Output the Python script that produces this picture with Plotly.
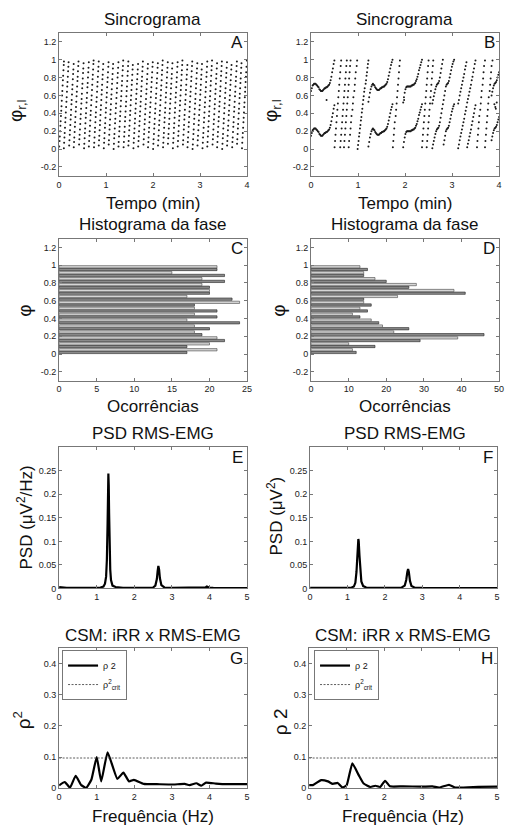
import plotly.graph_objects as go

W, H = 509, 830

# ---------------- DATA ----------------
# Panel A: synchrogram (respiratory cycle onsets, min) and beat phases (% of cycle)
A_ONSETS = [0.00, 0.10, 0.21, 0.31, 0.42, 0.53, 0.63, 0.74, 0.84, 0.95, 1.05, 1.16, 1.26,
            1.37, 1.47, 1.58, 1.68, 1.79, 1.89, 2.00, 2.10, 2.21, 2.31, 2.42, 2.52, 2.63,
            2.73, 2.84, 2.94, 3.05, 3.15, 3.26, 3.36, 3.47, 3.57, 3.68, 3.78, 3.89]
A_PERIOD = 0.105
A_PHASES = [
    [3, 9, 14, 20, 26, 31, 37, 43, 48, 54, 60, 65, 71, 77, 82, 88, 94, 98],
    [1, 7, 13, 18, 24, 30, 35, 41, 47, 53, 58, 64, 70, 75, 81, 87, 92, 97],
    [4, 10, 16, 21, 27, 33, 38, 44, 50, 55, 61, 67, 72, 78, 84, 89, 95],
    [2, 8, 13, 19, 25, 30, 36, 42, 47, 53, 59, 64, 70, 76, 81, 87, 93, 98],
    [5, 11, 16, 22, 28, 34, 39, 45, 51, 56, 62, 68, 73, 79, 85, 90, 96],
    [1, 6, 12, 18, 23, 29, 35, 40, 46, 52, 57, 63, 69, 74, 80, 86, 91, 97],
    [3, 9, 15, 20, 26, 32, 38, 43, 49, 55, 60, 66, 72, 78, 83, 89, 95, 99],
    [2, 7, 13, 19, 24, 30, 36, 41, 47, 53, 58, 64, 70, 75, 81, 87, 92, 98],
    [4, 10, 15, 21, 27, 32, 38, 44, 49, 55, 61, 66, 72, 78, 83, 89, 95],
    [1, 7, 12, 18, 24, 29, 35, 41, 46, 52, 58, 63, 69, 75, 80, 86, 92, 97],
    [5, 10, 16, 22, 27, 33, 39, 44, 50, 56, 61, 67, 73, 78, 84, 90, 95],
    [0, 6, 12, 17, 23, 29, 34, 40, 46, 51, 57, 63, 68, 74, 80, 85, 91, 97],
    [3, 8, 14, 20, 25, 31, 37, 42, 48, 54, 59, 65, 71, 76, 82, 88, 93, 99],
    [2, 8, 14, 19, 25, 31, 36, 42, 48, 53, 59, 65, 70, 76, 82, 87, 93, 98],
    [4, 9, 15, 21, 26, 32, 38, 43, 49, 55, 60, 66, 72, 77, 83, 89, 94],
    [1, 7, 12, 18, 23, 29, 34, 40, 45, 51, 56, 62, 67, 73, 78, 84, 89, 95],
    [3, 9, 14, 20, 26, 31, 37, 42, 48, 53, 59, 65, 70, 76, 81, 87, 92, 98],
    [5, 11, 17, 22, 28, 33, 39, 45, 50, 56, 62, 67, 73, 78, 84, 90, 95],
    [2, 8, 13, 19, 24, 30, 36, 41, 47, 52, 58, 64, 69, 75, 80, 86, 92, 97],
    [0, 6, 11, 17, 23, 28, 34, 40, 45, 51, 57, 62, 68, 74, 79, 85, 91, 96],
    [4, 10, 15, 21, 27, 32, 38, 43, 49, 55, 60, 66, 71, 77, 83, 88, 94, 99],
    [2, 7, 13, 18, 24, 30, 35, 41, 46, 52, 58, 63, 69, 74, 80, 86, 91, 97],
    [6, 12, 17, 23, 28, 34, 40, 45, 51, 56, 62, 68, 73, 79, 84, 90, 96],
    [1, 7, 12, 18, 24, 29, 35, 41, 46, 52, 58, 63, 69, 75, 80, 86, 92, 97],
    [3, 9, 15, 20, 26, 32, 37, 43, 49, 54, 60, 66, 71, 77, 83, 88, 94, 99],
    [5, 10, 16, 22, 27, 33, 38, 44, 50, 55, 61, 66, 72, 78, 83, 89, 94],
    [2, 8, 13, 19, 25, 30, 36, 42, 47, 53, 59, 64, 70, 76, 81, 87, 93, 98],
    [0, 5, 11, 17, 22, 28, 34, 39, 45, 51, 56, 62, 68, 73, 79, 85, 90, 96],
    [4, 10, 15, 21, 27, 32, 38, 44, 49, 55, 61, 66, 72, 78, 83, 89, 95],
    [1, 7, 13, 18, 24, 30, 35, 41, 47, 52, 58, 64, 69, 75, 81, 86, 92, 98],
    [3, 8, 14, 20, 25, 31, 37, 42, 48, 54, 59, 65, 71, 76, 82, 88, 93, 99],
    [5, 11, 16, 22, 28, 33, 39, 45, 50, 56, 62, 67, 73, 79, 84, 90, 96],
    [2, 8, 14, 19, 25, 31, 36, 42, 48, 53, 59, 65, 70, 76, 82, 87, 93, 98],
    [0, 6, 12, 17, 23, 29, 34, 40, 46, 51, 57, 63, 68, 74, 80, 85, 91, 97],
    [4, 9, 15, 21, 26, 32, 38, 43, 49, 55, 60, 66, 72, 77, 83, 89, 94],
    [2, 8, 13, 19, 25, 30, 36, 42, 47, 53, 59, 64, 70, 76, 81, 87, 93, 98],
    [6, 11, 17, 23, 28, 34, 40, 45, 51, 57, 62, 68, 74, 79, 85, 91, 96],
    [1, 7, 13, 18, 24, 30, 35, 41, 47, 52, 58, 64, 69, 75, 81, 86, 92, 99],
]

# Panel B: synchrogram strands (time in min, phase)
B_U1_T = [0.000, 0.016, 0.032, 0.048, 0.064, 0.080, 0.096, 0.112, 0.128, 0.144, 0.160, 0.176,
          0.192, 0.208, 0.224, 0.240, 0.256, 0.272, 0.288, 0.304, 0.320, 0.336, 0.352, 0.368,
          0.384, 0.400, 0.416, 0.432, 0.448, 0.464, 0.480, 0.496]
B_U1_P = [.65, .68, .71, .72, .73, .73, .73, .72, .71, .70, .69, .67, .66, .65, .65, .65,
          .66, .67, .68, .68, .69, .69, .70, .71, .72, .74, .77, .81, .86, .90, .95, .99]
B_L1_P = [.15, .18, .21, .22, .23, .23, .23, .22, .21, .20, .19, .17, .16, .15, .15, .15,
          .16, .17, .18, .18, .19, .19, .20, .21, .22, .24, .27, .31, .36, .40, .45, .49]
B_LONE_T = [0.33, 1.98]
B_LONE_P = [0.55, 0.55]
DL_PHI = [.02, .09, .16, .23, .30, .37, .44, .51, .58, .65, .72, .79, .86, .93, .99]
DL_PHI_DENSE = [.00, .045, .09, .14, .18, .23, .27, .32, .36, .41, .45, .50, .55, .59, .64,
                .68, .73, .77, .82, .86, .91, .95, .99]
DL1_T = [.50, .51, .52, .53, .54, .55, .56, .57, .58, .59, .60, .61, .62, .63, .64]
DL2_T = [.62, .63, .64, .65, .66, .67, .68, .69, .70, .71, .72, .73, .74, .75, .76]
DL3_T = [.70, .71, .72, .73, .74, .75, .76, .77, .78, .79, .80, .81, .82, .83, .84]
DL4_T = [.80, .81, .83, .84, .85, .86, .88, .89, .90, .92, .93, .94, .95, .97, .98]
DL5_T = [.99, 1.00, 1.01, 1.02, 1.03, 1.04, 1.05, 1.06, 1.07, 1.08, 1.09, 1.10, 1.11, 1.12,
         1.13, 1.14, 1.16, 1.17, 1.18, 1.19, 1.20, 1.21, 1.22]
B_U2_T = [1.22, 1.236, 1.252, 1.268, 1.284, 1.30, 1.316, 1.332, 1.348, 1.364, 1.38, 1.396,
          1.412, 1.428, 1.444, 1.46, 1.476, 1.492, 1.508, 1.524, 1.54, 1.556, 1.572, 1.588,
          1.604, 1.62, 1.636, 1.652, 1.668, 1.684, 1.70, 1.716, 1.732]
B_U2_P = [.53, .58, .63, .67, .70, .72, .73, .72, .71, .69, .68, .67, .66, .66, .66, .67, .68,
          .68, .69, .69, .70, .70, .71, .72, .73, .75, .78, .82, .86, .90, .94, .97, 1.0]
B_L2_P = [.03, .08, .13, .17, .20, .22, .23, .22, .21, .19, .18, .17, .16, .16, .16, .17, .18,
          .18, .19, .19, .20, .20, .21, .22, .23, .25, .28, .32, .36, .40, .44, .47, .50]
DL6_T = [1.74, 1.75, 1.76, 1.77, 1.78, 1.80, 1.81, 1.82, 1.83, 1.84, 1.85, 1.86, 1.87, 1.88, 1.89]
B_U3_T = [1.96, 1.976, 1.992, 2.008, 2.024, 2.04, 2.056, 2.072, 2.088, 2.104, 2.12, 2.136,
          2.152, 2.168, 2.184, 2.20, 2.216, 2.232, 2.248, 2.264, 2.28, 2.296, 2.312, 2.328,
          2.344, 2.36]
B_U3_P = [.52, .58, .63, .67, .69, .70, .70, .70, .70, .70, .70, .71, .71, .72, .72, .73, .74,
          .76, .78, .81, .84, .88, .91, .94, .97, 1.0]
B_L3_P = [.02, .08, .13, .17, .19, .20, .20, .20, .20, .20, .20, .21, .21, .22, .22, .23, .24,
          .26, .28, .31, .34, .38, .41, .44, .47, .50]
DL7_T = [2.36, 2.37, 2.38, 2.39, 2.40, 2.41, 2.42, 2.43, 2.44, 2.45, 2.46, 2.47, 2.48, 2.49, 2.50]
DL8_T = [2.46, 2.47, 2.48, 2.49, 2.50, 2.51, 2.52, 2.53, 2.54, 2.55, 2.56, 2.57, 2.58, 2.59, 2.60]
D4_T = [2.58, 2.596, 2.612, 2.628, 2.644, 2.66, 2.676, 2.692, 2.708, 2.724, 2.74, 2.756, 2.772,
        2.788, 2.804, 2.82, 2.836, 2.852, 2.868, 2.884, 2.90, 2.916, 2.932, 2.948, 2.964, 2.98,
        2.996, 3.012, 3.028, 3.044]
D4_P = [.01, .05, .09, .13, .17, .20, .22, .23, .24, .26, .30, .35, .40, .45, .50, .55, .60,
        .65, .70, .72, .73, .74, .76, .80, .84, .88, .92, .95, .98, 1.0]
D4PA_T = [2.58, 2.596, 2.612, 2.628, 2.644, 2.66, 2.676, 2.692, 2.708, 2.724, 2.74, 2.756,
          2.772, 2.788, 2.804]
D4PA_P = [.51, .55, .59, .63, .67, .70, .72, .73, .74, .76, .80, .85, .90, .95, 1.0]
D4PB_T = [2.82, 2.836, 2.852, 2.868, 2.884, 2.90, 2.916, 2.932, 2.948, 2.964, 2.98, 2.996,
          3.012, 3.028, 3.044]
D4PB_P = [.05, .10, .15, .20, .22, .23, .24, .26, .30, .34, .38, .42, .45, .48, .50]
D5_T = [3.13, 3.146, 3.162, 3.178, 3.194, 3.21, 3.226, 3.242, 3.258, 3.274, 3.29, 3.306, 3.322,
        3.338, 3.354, 3.37, 3.386, 3.402, 3.418, 3.434, 3.45, 3.466, 3.482, 3.498]
D5_P = [.01, .05, .10, .14, .18, .22, .26, .30, .34, .39, .43, .47, .52, .56, .60, .64, .68,
        .72, .77, .81, .86, .90, .95, .99]
D5PA_T = [3.13, 3.146, 3.162, 3.178, 3.194, 3.21, 3.226, 3.242, 3.258, 3.274, 3.29, 3.306]
D5PA_P = [.51, .55, .60, .64, .68, .72, .76, .80, .84, .89, .93, .97]
D5PB_T = [3.322, 3.338, 3.354, 3.37, 3.386, 3.402, 3.418, 3.434, 3.45, 3.466, 3.482, 3.498]
D5PB_P = [.02, .06, .10, .14, .18, .22, .27, .31, .36, .40, .45, .49]
DL9_T = [3.53, 3.54, 3.55, 3.56, 3.57, 3.58, 3.60, 3.61, 3.62, 3.63, 3.65, 3.66, 3.67, 3.68, 3.70]
DL10_T = [3.70, 3.71, 3.72, 3.73, 3.74, 3.75, 3.76, 3.77, 3.78, 3.80, 3.81, 3.82, 3.83, 3.84, 3.86]
E1_T = [3.84, 3.856, 3.872, 3.888, 3.904, 3.92, 3.936, 3.952, 3.968, 3.984, 4.0]
E1_P = [.10, .14, .18, .21, .23, .24, .25, .27, .30, .33, .36]
E2_P = [.60, .64, .68, .71, .73, .74, .75, .77, .80, .83, .86]
E3_T = [3.90, 3.92, 3.93, 3.95]
E3_P = [.50, .47, .45, .52]

# Panels C, D: phase histograms (bin centres; two bars per bin, lower / upper)
HIST_BINS = [0.033, 0.1, 0.167, 0.233, 0.3, 0.367, 0.433, 0.5, 0.567, 0.633, 0.7, 0.767,
             0.833, 0.9, 0.967]
C_LOW = [17, 17, 22, 19, 20, 24, 21, 21, 18, 23, 20, 20, 22, 22, 21]
C_UP = [21, 20, 21, 18, 18, 17, 18, 18, 24, 17, 20, 19, 19, 15, 21]
D_LOW = [12, 17, 29, 46, 26, 18, 13, 15, 16, 14, 41, 26, 20, 14, 15]
D_UP = [11, 10, 39, 22, 19, 16, 11, 13, 14, 23, 38, 28, 17, 14, 13]

# Panels E, F: PSD of RMS-EMG
E_FREQ = [0, 0.1, 0.2, 0.4, 0.6, 0.8, 1.0, 1.1, 1.18, 1.22, 1.25, 1.27, 1.29, 1.30, 1.31, 1.32,
          1.33, 1.34, 1.36, 1.38, 1.42, 1.5, 1.7, 2.0, 2.3, 2.5, 2.56, 2.6, 2.62, 2.64, 2.66,
          2.68, 2.72, 2.8, 3.0, 3.5, 3.85, 3.9, 3.93, 3.96, 4.0, 4.1, 4.5, 5.0]
E_PSD = [0.003, 0.002, 0.0015, 0.001, 0.001, 0.001, 0.0015, 0.002, 0.004, 0.01, 0.025, 0.06,
         0.14, 0.2, 0.244, 0.22, 0.16, 0.1, 0.04, 0.018, 0.006, 0.003, 0.0015, 0.001, 0.001,
         0.002, 0.006, 0.02, 0.036, 0.048, 0.04, 0.022, 0.007, 0.002, 0.001, 0.001, 0.0012,
         0.0025, 0.004, 0.003, 0.0015, 0.001, 0.0005, 0.0005]
F_FREQ = [0, 0.2, 0.5, 0.8, 1.0, 1.1, 1.17, 1.21, 1.24, 1.26, 1.28, 1.29, 1.30, 1.32, 1.34,
          1.37, 1.42, 1.5, 1.8, 2.2, 2.45, 2.53, 2.57, 2.60, 2.62, 2.64, 2.67, 2.71, 2.8, 3.0,
          3.8, 3.9, 3.95, 4.0, 4.1, 5.0]
F_PSD = [0.001, 0.001, 0.0008, 0.0008, 0.001, 0.0015, 0.004, 0.012, 0.035, 0.065, 0.095,
         0.105, 0.1, 0.07, 0.04, 0.015, 0.005, 0.002, 0.001, 0.001, 0.002, 0.006, 0.018, 0.035,
         0.041, 0.035, 0.016, 0.005, 0.0015, 0.001, 0.001, 0.0015, 0.002, 0.0015, 0.001, 0.0008]

# Panels G, H: coherence rho^2
G_FREQ = [0, 0.15, 0.29, 0.44, 0.59, 0.72, 0.86, 1.0, 1.12, 1.29, 1.55, 1.71, 1.86, 1.99,
          2.25, 2.6, 3.04, 3.34, 3.47, 3.65, 3.78, 3.91, 4.17, 4.5, 5.0]
G_RHO = [0.009, 0.02, 0.002, 0.04, 0.01, 0.001, 0.028, 0.1, 0.022, 0.115, 0.03, 0.05, 0.022,
         0.027, 0.014, 0.013, 0.012, 0.014, 0.01, 0.016, 0.008, 0.018, 0.015, 0.013, 0.013]
H_FREQ = [0, 0.1, 0.32, 0.5, 0.63, 0.76, 0.89, 1.0, 1.15, 1.32, 1.45, 1.63, 1.76, 1.89, 2.02,
          2.15, 2.5, 3.0, 3.28, 3.46, 3.72, 3.89, 4.5, 5.0]
H_RHO = [0.01, 0.01, 0.026, 0.022, 0.014, 0.017, 0.002, 0.01, 0.08, 0.042, 0.015, 0.004,
         0.008, 0.004, 0.024, 0.006, 0.006, 0.005, 0.006, 0.002, 0.011, 0.002, 0.004, 0.005]
RHO_CRIT = 0.097
CRIT_FREQ = [0, 5]

# ---------------- FIGURE ----------------
FONT = "Liberation Sans, Arial, sans-serif"
fig = go.Figure()

# A
a_t, a_p = [], []
for onset, phs in zip(A_ONSETS, A_PHASES):
    for p in phs:
        a_t.append(onset + p / 100 * A_PERIOD)
        a_p.append(p / 100)
dot = dict(size=2.0, color="#1a1a1a", line=dict(width=0))
fig.add_trace(go.Scatter(x=a_t, y=a_p, mode="markers", marker=dot, xaxis="x", yaxis="y",
                         showlegend=False))

# B
B_SEGMENTS = [
    (B_U1_T, B_U1_P), (B_U1_T, B_L1_P), (B_LONE_T, B_LONE_P),
    (DL1_T, DL_PHI), (DL2_T, DL_PHI), (DL3_T, DL_PHI), (DL4_T, DL_PHI), (DL5_T, DL_PHI_DENSE),
    (B_U2_T, B_U2_P), (B_U2_T, B_L2_P), (DL6_T, DL_PHI),
    (B_U3_T, B_U3_P), (B_U3_T, B_L3_P), (DL7_T, DL_PHI), (DL8_T, DL_PHI),
    (D4_T, D4_P), (D4PA_T, D4PA_P), (D4PB_T, D4PB_P),
    (D5_T, D5_P), (D5PA_T, D5PA_P), (D5PB_T, D5PB_P),
    (DL9_T, DL_PHI), (DL10_T, DL_PHI), (E1_T, E1_P), (E1_T, E2_P), (E3_T, E3_P),
]
b_t, b_p = [], []
for ts, ps in B_SEGMENTS:
    b_t += list(ts)
    b_p += list(ps)
fig.add_trace(go.Scatter(x=b_t, y=b_p, mode="markers", marker=dot, xaxis="x2", yaxis="y2",
                         showlegend=False))

# C, D histograms
bar_dark = dict(color="#8a8a8a", line=dict(color="#222", width=0.6))
bar_light = dict(color="#d6d6d6", line=dict(color="#444", width=0.6))
for low, up, xa, ya in [(C_LOW, C_UP, "x3", "y3"), (D_LOW, D_UP, "x4", "y4")]:
    fig.add_trace(go.Bar(y=HIST_BINS, x=low, orientation="h", marker=bar_dark,
                         xaxis=xa, yaxis=ya, showlegend=False))
    fig.add_trace(go.Bar(y=HIST_BINS, x=up, orientation="h", marker=bar_light,
                         xaxis=xa, yaxis=ya, showlegend=False))

# E, F PSD
fig.add_trace(go.Scatter(x=E_FREQ, y=E_PSD, mode="lines", line=dict(color="black", width=2.2),
                         xaxis="x5", yaxis="y5", showlegend=False))
fig.add_trace(go.Scatter(x=F_FREQ, y=F_PSD, mode="lines", line=dict(color="black", width=2.2),
                         xaxis="x6", yaxis="y6", showlegend=False))

# G, H coherence
for fr, rho, xa, ya, lg in [(G_FREQ, G_RHO, "x7", "y7", "legend"),
                            (H_FREQ, H_RHO, "x8", "y8", "legend2")]:
    fig.add_trace(go.Scatter(x=fr, y=rho, mode="lines", name="\u03c1 2",
                             line=dict(color="black", width=2.2, shape="spline", smoothing=0.4),
                             xaxis=xa, yaxis=ya, legend=lg))
    fig.add_trace(go.Scatter(x=CRIT_FREQ, y=[RHO_CRIT, RHO_CRIT], mode="lines",
                             name="\u03c1<sup>2</sup><sub>crit</sub>",
                             line=dict(color="#333", width=0.8, dash="2px,1.5px"),
                             xaxis=xa, yaxis=ya, legend=lg))


def xd(a, b):
    return [a / W, b / W]


def yd(top, bot):
    return [1 - bot / H, 1 - top / H]


def axis(domain, rng, tickvals, ticktext, anchor):
    return dict(domain=domain, range=rng, tickvals=tickvals, ticktext=ticktext, anchor=anchor,
                showline=True, linecolor="#777", linewidth=1, mirror="ticks", ticks="inside",
                ticklen=3, tickcolor="#777", showgrid=False, zeroline=False,
                tickfont=dict(size=9, color="#222", family=FONT))


phi_tv = [-0.2, 0, 0.2, 0.4, 0.6, 0.8, 1, 1.2]
phi_tt = ["-0.2", "0", "0.2", "0.4", "0.6", "0.8", "1", "1.2"]
t_tv = [0, 1, 2, 3, 4]
t_tt = ["0", "1", "2", "3", "4"]
f_tv = [0, 1, 2, 3, 4, 5]
f_tt = ["0", "1", "2", "3", "4", "5"]
psd_tv = [0, 0.05, 0.1, 0.15, 0.2, 0.25]
psd_tt = ["0", "0.05", "0.1", "0.15", "0.2", "0.25"]
rho_tv = [0, 0.1, 0.2, 0.3, 0.4]
rho_tt = ["0", "0.1", "0.2", "0.3", "0.4"]

boxes = {
    1: (57, 248, 33, 177), 2: (313, 504, 33, 177),
    3: (57, 248, 240, 383), 4: (313, 504, 240, 383),
    5: (57, 248, 450, 592), 6: (312, 502, 450, 592),
    7: (57, 248, 652, 793), 8: (311, 502, 652, 793),
}
xspec = {
    1: ([0, 4], t_tv, t_tt), 2: ([0, 4], t_tv, t_tt),
    3: ([0, 25], [0, 5, 10, 15, 20, 25], ["0", "5", "10", "15", "20", "25"]),
    4: ([0, 50], [0, 10, 20, 30, 40, 50], ["0", "10", "20", "30", "40", "50"]),
    5: ([0, 5], f_tv, f_tt), 6: ([0, 5], f_tv, f_tt),
    7: ([0, 5], f_tv, f_tt), 8: ([0, 5], f_tv, f_tt),
}
yspec = {
    1: ([-0.3, 1.3], phi_tv, phi_tt), 2: ([-0.3, 1.3], phi_tv, phi_tt),
    3: ([-0.3, 1.3], phi_tv, phi_tt), 4: ([-0.3, 1.3], phi_tv, phi_tt),
    5: ([0, 0.3], psd_tv, psd_tt), 6: ([0, 0.3], psd_tv, psd_tt),
    7: ([0, 0.45], rho_tv, rho_tt), 8: ([0, 0.45], rho_tv, rho_tt),
}
layout_axes = {}
for i in range(1, 9):
    x0, x1, y0, y1 = boxes[i]
    sx = "" if i == 1 else str(i)
    layout_axes["xaxis" + sx] = axis(xd(x0, x1), *xspec[i], anchor="y" + sx)
    layout_axes["yaxis" + sx] = axis(yd(y0, y1), *yspec[i], anchor="x" + sx)

fig.update_layout(**layout_axes)

annotations = []


def txt(text, x, y, size=17, angle=0, xanchor="center"):
    annotations.append(dict(text=text, x=x / W, y=1 - y / H, xref="paper", yref="paper",
                            showarrow=False, xanchor=xanchor, yanchor="middle",
                            textangle=angle, font=dict(size=size, color="#111", family=FONT)))


for i, letter in zip(range(1, 9), "ABCDEFGH"):
    x0, x1, y0, y1 = boxes[i]
    txt(letter, x1 - 2, y0 + 10, size=17, xanchor="right")

txt("Sincrograma", 152, 20)
txt("Sincrograma", 408, 20)
txt("Tempo (min)", 152, 205)
txt("Tempo (min)", 408, 205)
txt("Histograma da fase", 152, 226)
txt("Histograma da fase", 408, 226)
txt("Ocorrências", 152, 409)
txt("Ocorrências", 408, 409)
txt("PSD RMS-EMG", 152, 436)
txt("PSD RMS-EMG", 408, 436)
txt("CSM: iRR x RMS-EMG", 152, 639)
txt("CSM: iRR x RMS-EMG", 406, 639)
txt("Frequência (Hz)", 152, 821)
txt("Frequência (Hz)", 406, 821)

txt("\u03c6<sub>r,l</sub>", 15, 111, size=19, angle=-90)
txt("\u03c6<sub>r,l</sub>", 274, 111, size=19, angle=-90)
txt("\u03c6", 21, 313, size=19, angle=-90)
txt("\u03c6", 280, 313, size=19, angle=-90)
txt("PSD (\u03bcV<sup>2</sup>/Hz)", 22, 521, size=17, angle=-90)
txt("PSD (\u03bcV<sup>2</sup>)", 276, 519, size=17, angle=-90)
txt("\u03c1<sup>2</sup>", 19, 725, size=19, angle=-90)
txt("\u03c1 2", 282, 726, size=19, angle=-90)

leg_common = dict(xanchor="left", yanchor="top", bgcolor="white", bordercolor="#777",
                  borderwidth=1, font=dict(size=9, color="#111", family=FONT),
                  tracegroupgap=0, itemwidth=30)

fig.update_layout(
    width=W, height=H, margin=dict(l=0, r=0, t=0, b=0),
    paper_bgcolor="white", plot_bgcolor="white",
    barmode="group", bargap=0.08, bargroupgap=0.15,
    annotations=annotations,
    legend=dict(x=60 / W, y=1 - 654 / H, **leg_common),
    legend2=dict(x=316 / W, y=1 - 654 / H, **leg_common),
    font=dict(family=FONT),
)

fig.write_html(
    "out.html",
    config={"displayModeBar": False},
    post_script="document.body.style.margin='0';document.body.style.overflow='hidden';",
)
